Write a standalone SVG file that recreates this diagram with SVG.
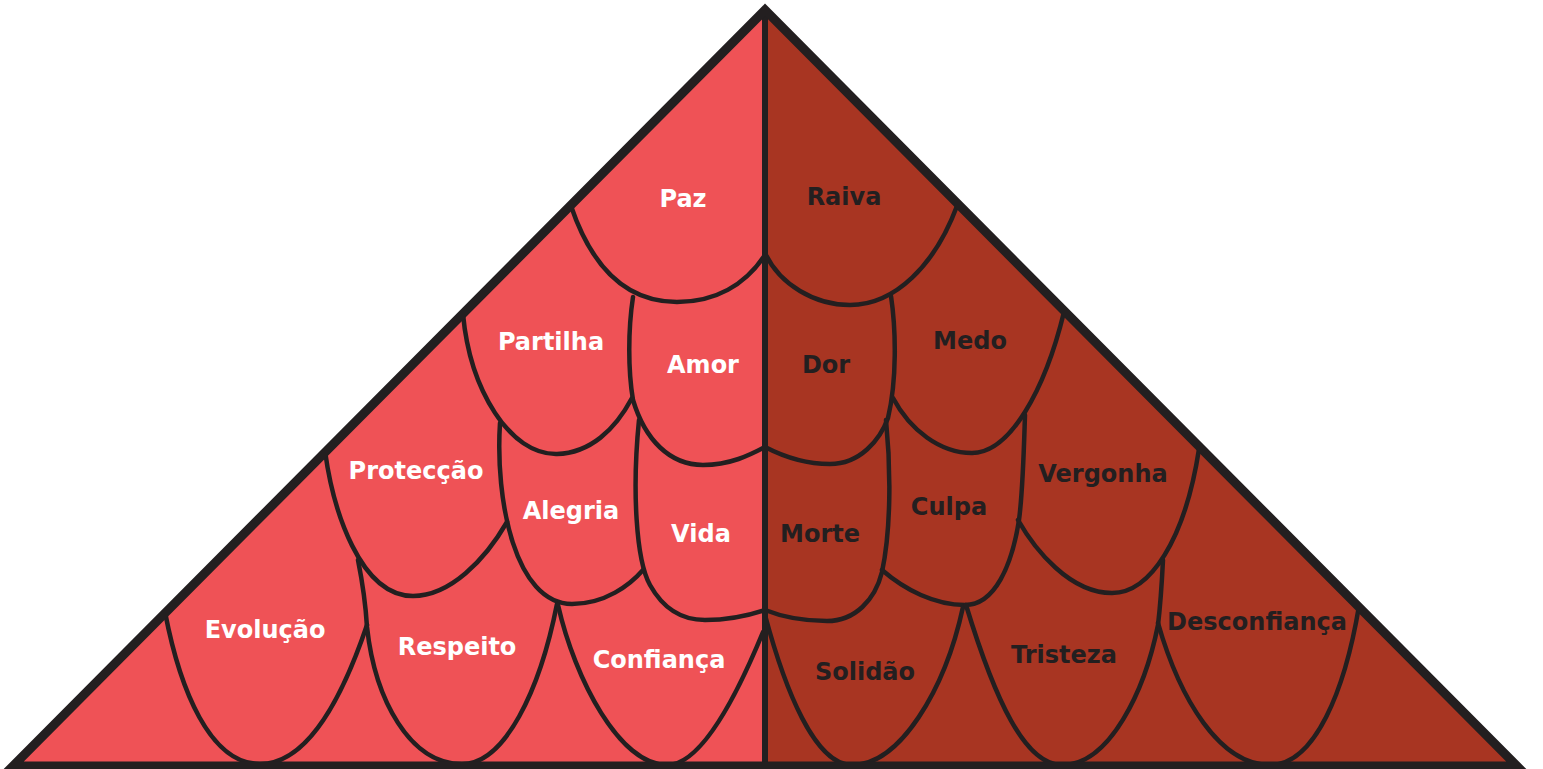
<svg xmlns="http://www.w3.org/2000/svg" width="1543" height="769" viewBox="0 0 1543 769">
<style>
.scale{fill:none;stroke:#231F20;stroke-width:4.5;stroke-linecap:round;stroke-linejoin:round}
.lt{font-family:"DejaVu Sans",Verdana,sans-serif;font-weight:bold;font-size:24px;fill:#FFFFFF;text-anchor:middle}
.dk{font-family:"DejaVu Sans",Verdana,sans-serif;font-weight:bold;font-size:24px;fill:#231F20;text-anchor:middle}
</style>
<rect width="1543" height="769" fill="#FFFFFF"/>
<g id="fills">
<polygon points="765,10 13,766 765,766" fill="#EF5256"/>
<polygon points="765,10 1517,766 765,766" fill="#A83522"/>
</g>
<g id="connectors">
<g id="paz"><path class="scale" d="M 571 206 C 590 262, 622 302, 677 302 C 715 302, 745 285, 765 255"/><text class="lt" x="683" y="207">Paz</text></g>
<g id="partilha"><path class="scale" d="M 463 314 C 470 390, 510 455, 557 454 C 590 453, 615 430, 632 398"/><text class="lt" x="551" y="350">Partilha</text></g>
<g id="amor"><path class="scale" d="M 633 297 C 628 330, 628 370, 633 400 C 645 440, 670 465, 703 465 C 730 465, 750 455, 765 447"/><text class="lt" x="703" y="373">Amor</text></g>
<g id="proteccao"><path class="scale" d="M 325 451 C 333 510, 360 596, 413 596 C 450 596, 485 560, 507 522"/><text class="lt" x="416" y="479">Protecção</text></g>
<g id="alegria"><path class="scale" d="M 500 423 C 495 500, 515 604, 572 604 C 605 604, 630 585, 643 570"/><text class="lt" x="571" y="519">Alegria</text></g>
<g id="vida"><path class="scale" d="M 639 420 C 632 490, 636 560, 650 585 C 665 612, 685 620, 705 620 C 730 620, 750 615, 765 610"/><text class="lt" x="701" y="542">Vida</text></g>
<g id="evolucao"><path class="scale" d="M 165 612 C 180 690, 210 764, 260 764 C 310 764, 345 690, 367 625"/><text class="lt" x="265" y="638">Evolução</text></g>
<g id="respeito"><path class="scale" d="M 358 560 C 364 590, 366 610, 367 627 C 375 700, 410 764, 462 764 C 505 764, 540 690, 557 604"/><text class="lt" x="457" y="655">Respeito</text></g>
<g id="confianca"><path class="scale" d="M 558 605 C 575 680, 620 765, 667 765 C 700 765, 735 700, 763 632"/><text class="lt" x="659" y="668">Confiança</text></g>
<g id="raiva"><path class="scale" d="M 765 253 C 780 285, 815 305, 850 305 C 895 305, 935 265, 957 206"/><text class="dk" x="844" y="205">Raiva</text></g>
<g id="dor"><path class="scale" d="M 765 447 C 790 460, 810 464, 830 464 C 860 464, 880 440, 888 418 C 897 380, 896 330, 891 296"/><text class="dk" x="826" y="373">Dor</text></g>
<g id="medo"><path class="scale" d="M 893 398 C 910 430, 940 453, 972 453 C 1010 453, 1045 390, 1064 312"/><text class="dk" x="970" y="349">Medo</text></g>
<g id="morte"><path class="scale" d="M 765 610 C 785 618, 805 621, 827 621 C 855 621, 875 600, 882 572 C 891 530, 891 470, 886 420"/><text class="dk" x="820" y="542">Morte</text></g>
<g id="culpa"><path class="scale" d="M 882 570 C 905 590, 935 605, 965 605 C 995 605, 1012 565, 1019 520 C 1023 490, 1024 445, 1025 415"/><text class="dk" x="949" y="515">Culpa</text></g>
<g id="vergonha"><path class="scale" d="M 1018 520 C 1035 550, 1070 593, 1112 593 C 1150 593, 1185 540, 1199 449"/><text class="dk" x="1103" y="482">Vergonha</text></g>
<g id="solidao"><path class="scale" d="M 765 615 C 785 690, 815 765, 852 765 C 900 765, 945 690, 963 607"/><text class="dk" x="865" y="680">Solidão</text></g>
<g id="tristeza"><path class="scale" d="M 966 605 C 995 700, 1025 765, 1062 765 C 1110 765, 1145 690, 1158 625 C 1161 600, 1162 580, 1163 560"/><text class="dk" x="1064" y="663">Tristeza</text></g>
<g id="desconfianca"><path class="scale" d="M 1158 623 C 1180 700, 1220 765, 1270 765 C 1315 765, 1345 690, 1359 606"/><text class="dk" x="1257" y="630">Desconfiança</text></g>
</g>
<g id="frame">
<line x1="765" y1="10" x2="765" y2="766" stroke="#231F20" stroke-width="6"/>
<polygon points="765,10 13,766 1517,766" fill="none" stroke="#231F20" stroke-width="9" stroke-linejoin="miter"/>
</g>
</svg>
